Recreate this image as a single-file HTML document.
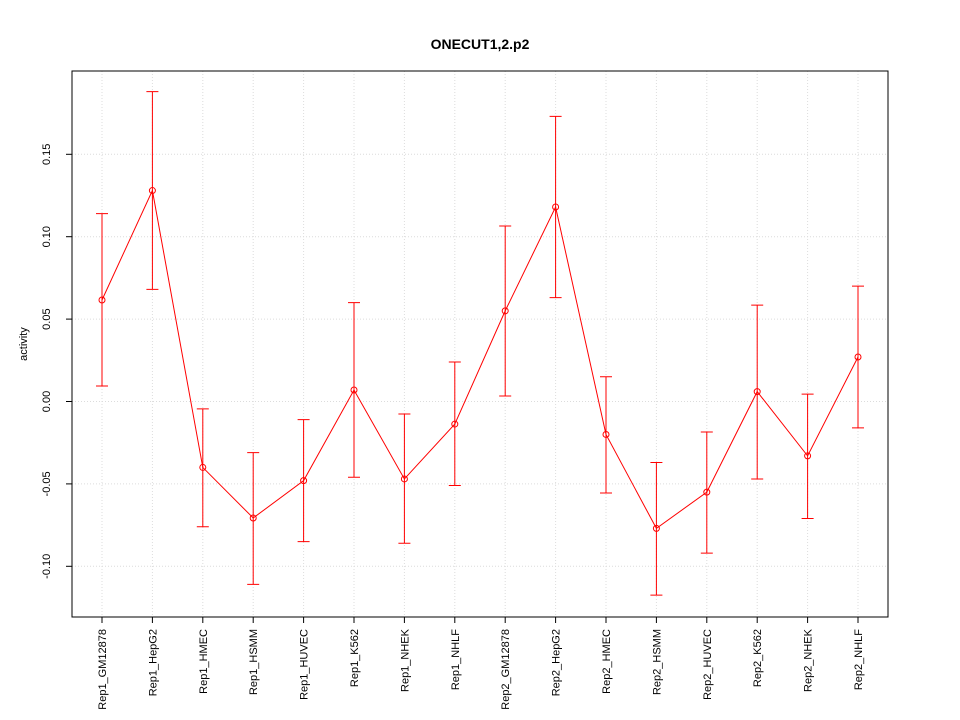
<!DOCTYPE html>
<html><head><meta charset="utf-8"><style>
body{margin:0;background:#fff}
svg{display:block;font-family:"Liberation Sans",Arial,sans-serif}
</style></head><body>
<svg id="c" width="960" height="720"></svg>
<script>
const categories=["Rep1_GM12878","Rep1_HepG2","Rep1_HMEC","Rep1_HSMM","Rep1_HUVEC","Rep1_K562","Rep1_NHEK","Rep1_NHLF","Rep2_GM12878","Rep2_HepG2","Rep2_HMEC","Rep2_HSMM","Rep2_HUVEC","Rep2_K562","Rep2_NHEK","Rep2_NHLF"];
const values=[0.0616,0.128,-0.040,-0.0707,-0.048,0.007,-0.047,-0.0137,0.055,0.118,-0.020,-0.077,-0.055,0.006,-0.033,0.027];
const upper=[0.114,0.188,-0.0045,-0.031,-0.011,0.060,-0.0076,0.024,0.1065,0.173,0.015,-0.037,-0.0185,0.0585,0.0045,0.070];
const lower=[0.0094,0.068,-0.076,-0.111,-0.085,-0.046,-0.086,-0.051,0.0033,0.063,-0.0555,-0.1175,-0.092,-0.047,-0.071,-0.016];
const yTicks=[-0.10,-0.05,0.00,0.05,0.10,0.15];
const yTickLabels=["-0.10","-0.05","0.00","0.05","0.10","0.15"];
const NS="http://www.w3.org/2000/svg";
const svg=document.getElementById('c');
const L=72,R=888,T=71,B=617;
const xs=i=>102+i*50.4;
const ys=v=>401.5-v*1648;
function mk(tag,attrs,parent){const e=document.createElementNS(NS,tag);for(const k in attrs)e.setAttribute(k,attrs[k]);(parent||svg).appendChild(e);return e;}
categories.forEach((c,i)=>{const g=mk('line',{x1:xs(i),x2:xs(i),y1:T,y2:B,stroke:'#dcdcdc','stroke-dasharray':'1,2'});

});
yTicks.forEach((v,i)=>{const g=mk('line',{x1:L,x2:R,y1:ys(v),y2:ys(v),stroke:'#dcdcdc','stroke-dasharray':'1,2'});


const t=mk('line',{x1:L-6,x2:L,y1:ys(v),y2:ys(v),stroke:'#000'});


const lx=L-22;
const lb=mk('text',{x:lx,y:ys(v),'font-size':11,'text-anchor':'middle',transform:`rotate(-90 ${lx} ${ys(v)})`});
lb.textContent=yTickLabels[i];

});
const frame=mk('rect',{x:L,y:T,width:R-L,height:B-T,fill:'none',stroke:'#000'});


categories.forEach((c,i)=>{const t=mk('line',{x1:xs(i),x2:xs(i),y1:B,y2:B+6,stroke:'#000'});


const lb=mk('text',{x:xs(i)+4,y:B+12,'font-size':11,'text-anchor':'end',transform:`rotate(-90 ${xs(i)+4} ${B+12})`});
lb.textContent=c;


const eb=mk('path',{d:`M${xs(i)},${ys(upper[i])}V${ys(lower[i])}M${xs(i)-6},${ys(upper[i])}h12M${xs(i)-6},${ys(lower[i])}h12`,stroke:'#ff0000',fill:'none'});

});
const line=mk('polyline',{points:values.map((v,i)=>xs(i)+','+ys(v)).join(' '),fill:'none',stroke:'#ff0000'});


values.forEach((v,i)=>{const p=mk('circle',{cx:xs(i),cy:ys(v),r:3,fill:'none',stroke:'#ff0000'});

});
const title=mk('text',{x:480,y:49,'font-size':14,'font-weight':'bold','text-anchor':'middle'});
title.textContent='ONECUT1,2.p2';


const yt=mk('text',{x:27,y:344,'font-size':11,'text-anchor':'middle',transform:'rotate(-90 27 344)'});
yt.textContent='activity';


</script>
</body></html>
